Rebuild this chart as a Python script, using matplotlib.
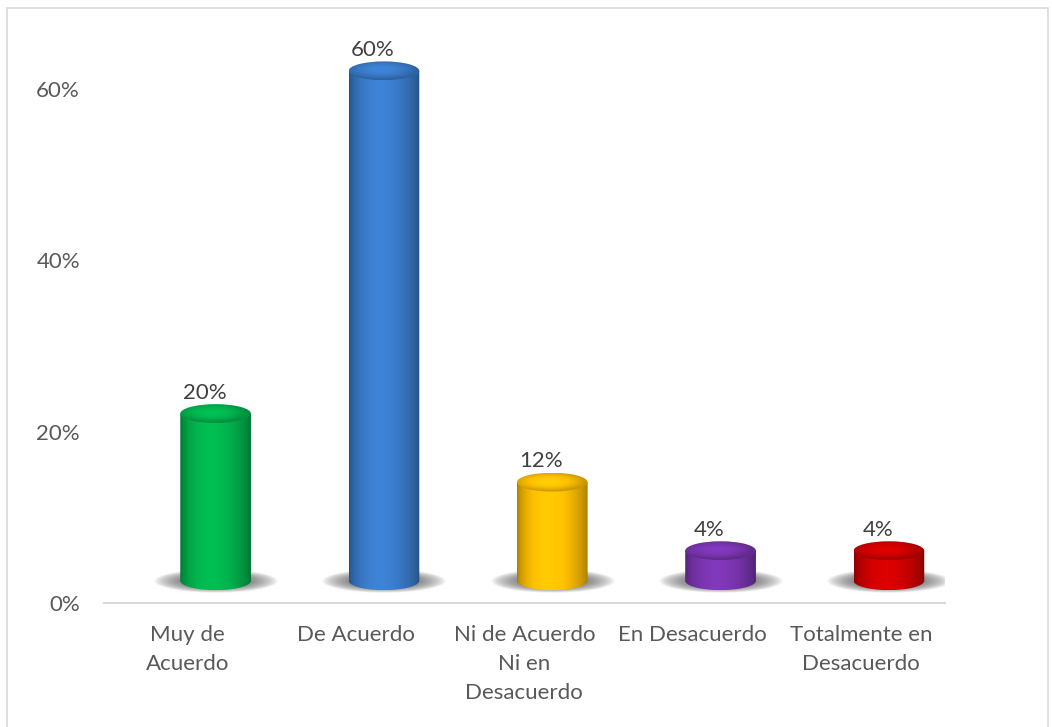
import numpy as np
import matplotlib.pyplot as plt
from matplotlib.patches import Ellipse, PathPatch, Rectangle
from matplotlib.path import Path
from matplotlib.colors import to_rgb

categories = ["Muy de\nAcuerdo", "De Acuerdo", "Ni de Acuerdo\nNi en\nDesacuerdo",
              "En Desacuerdo", "Totalmente en\nDesacuerdo"]
values = [20, 60, 12, 4, 4]
colors = ["#00B44E", "#3A7CCB", "#FFC000", "#7A35B0", "#D00000"]
ytick_values = [0, 20, 40, 60]
ytick_labels = ["0%", "20%", "40%", "60%"]

plt.rcParams['font.family'] = ['Lato', 'DejaVu Sans']

fig = plt.figure(figsize=(10.52, 7.27), dpi=100)
ax = fig.add_axes([0.0984, 0.1706, 0.80, 0.7744])

# frame round the chart (bottom edge lies outside the picture)
fig.patches.append(Rectangle((7 / 1052, -0.05), 1041 / 1052, 1.05 - 8 / 727,
                             transform=fig.transFigure, fill=False,
                             edgecolor="#d9d9d9", lw=1.2))

dx = 0.166   # 3D offset of the cylinders
base = 2.6   # centre of the bottom ellipse
lift = 2.1   # offset of the top ellipse above the value
w = 0.42
ry = 1.1


def body_image(rgb, strength=1.0, n=200):
    t = np.linspace(0, 1, n)
    f = 0.64 + 0.42 * np.sin(np.pi * t ** 0.85) ** 0.7 * strength
    img = np.clip(np.outer(f, rgb), 0, 1)
    return img[np.newaxis, :, :]


def cap_image(rgb, n=120):
    # lighter in the middle, darker towards the rim
    gx = np.linspace(-1, 1, n)
    X, Y = np.meshgrid(gx, gx)
    r = np.clip(np.sqrt((X + 0.1) ** 2 + (Y - 0.1) ** 2), 0, 1)
    f = 1.08 - 0.28 * r ** 2
    return np.clip(f[..., None] * rgb[None, None, :], 0, 1)


for i, (v, c) in enumerate(zip(values, colors)):
    rgb = np.array(to_rgb(c))
    xc = i + dx
    xl, xr = xc - w / 2, xc + w / 2
    top = v + lift

    # soft shadow on the floor
    gx = np.linspace(xc - 0.45, xc + 0.45, 120)
    gy = np.linspace(base - 1.8, base + 1.6, 60)
    X, Y = np.meshgrid(gx, gy)
    r = ((X - xc) / 0.37) ** 2 + ((Y - (base - 0.1)) / 1.35) ** 2
    alpha = 0.9 * np.clip(1 - r, 0, 1) ** 0.8
    sh = np.zeros((60, 120, 4))
    sh[..., :3] = 0.33
    sh[..., 3] = alpha
    ax.imshow(sh, extent=[gx[0], gx[-1], gy[0], gy[-1]], origin='lower',
              aspect='auto', zorder=2, interpolation='bilinear')

    # cylinder body
    theta = np.linspace(np.pi, 2 * np.pi, 60)
    verts = list(zip(xc + w / 2 * np.cos(theta), base + ry * np.sin(theta)))
    verts += [(xr, top), (xl, top), verts[0]]
    clip = PathPatch(Path(verts, closed=True), facecolor='none',
                     edgecolor='none', transform=ax.transData)
    ax.add_patch(clip)
    im = ax.imshow(body_image(rgb), extent=[xl, xr, base - ry, top],
                   origin='lower', aspect='auto', zorder=3,
                   interpolation='bilinear')
    im.set_clip_path(clip)

    # top cap
    cap = Ellipse((xc, top), w, 2 * ry, facecolor='none', edgecolor='none',
                  transform=ax.transData)
    ax.add_patch(cap)
    im2 = ax.imshow(cap_image(rgb), extent=[xl, xr, top - ry, top + ry],
                    origin='lower', aspect='auto', zorder=4,
                    interpolation='bilinear')
    im2.set_clip_path(cap)

    ax.annotate(f"{v}%", (i + 0.1, top + ry), xytext=(0, 1),
                textcoords='offset points', ha='center', va='bottom',
                fontsize=16, color='#404040')

ax.set_xlim(-0.5, 4.5)
ax.set_ylim(0, 65.7)

ax.set_xticks(range(len(categories)), categories)
ax.set_yticks(ytick_values, ytick_labels)
ax.tick_params(axis='x', length=0, pad=16, labelsize=16, colors='#595959')
ax.tick_params(axis='y', length=0, pad=17, labelsize=16, colors='#595959')
for lab in ax.get_xticklabels():
    lab.set_linespacing(1.55)

for s in ['top', 'right', 'left']:
    ax.spines[s].set_visible(False)
ax.spines['bottom'].set_color('#d9d9d9')
ax.spines['bottom'].set_linewidth(1.5)

fig.savefig("out.png", dpi=100)
